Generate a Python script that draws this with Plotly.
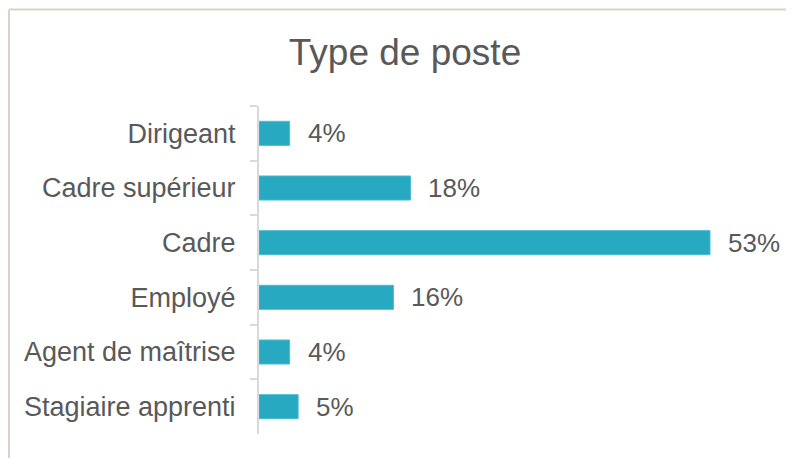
import plotly.graph_objects as go

categories = ["Dirigeant", "Cadre supérieur", "Cadre", "Employé", "Agent de maîtrise", "Stagiaire apprenti"]
values = [3.6, 17.8, 53.0, 15.8, 3.6, 4.6]
labels = ["4%", "18%", "53%", "16%", "4%", "5%"]

# page has an 8px body margin; figure coordinates are page coordinates minus 8
OFF = 8
W, H = 794 - OFF, 458 - OFF
ML, MR, MT, MB = 259 - OFF, 14, 106 - OFF, 24
PW = W - ML - MR
PH = H - MT - MB

TEXT = "#595959"
FONT = "Liberation Sans, Arial, sans-serif"

fig = go.Figure()
fig.add_trace(go.Bar(
    x=values, y=categories, orientation="h",
    marker=dict(color="#26A9C1", line=dict(color="#4FBBD0", width=1)),
    hoverinfo="skip",
))

for c, v, t in zip(categories, values, labels):
    fig.add_annotation(x=v, y=c, text=t, showarrow=False, xanchor="left",
                       xshift=16, font=dict(family=FONT, size=26, color=TEXT))

def px_x(p):
    return (p - OFF - ML) / PW

def px_y(p):
    return (H - MB - (p - OFF)) / PH

border = "#D9D3C7"
fig.add_shape(type="line", xref="paper", yref="paper",
              x0=px_x(9), x1=px_x(794), y0=px_y(9.5), y1=px_y(9.5),
              line=dict(color=border, width=2))
fig.add_shape(type="line", xref="paper", yref="paper",
              x0=px_x(9), x1=px_x(9), y0=px_y(9.5), y1=px_y(458),
              line=dict(color=border, width=2))

fig.update_layout(
    width=W, height=H,
    margin=dict(l=ML, r=MR, t=MT, b=MB),
    paper_bgcolor="white", plot_bgcolor="white",
    bargap=0.56,
    showlegend=False,
    title=dict(text="Type de poste", x=px_x(405), xref="paper", xanchor="center",
               y=1 - (52 - OFF) / H, yref="container", yanchor="middle",
               font=dict(family=FONT, size=37, color=TEXT)),
    xaxis=dict(range=[0, PW / (451 / 53.0)], visible=False, fixedrange=True),
    yaxis=dict(
        autorange="reversed", showline=True, linecolor="#D9D9D9", linewidth=2,
        ticks="outside", tickson="boundaries", ticklen=7, tickcolor="#D9D9D9", tickwidth=2,
        ticklabelstandoff=16, showgrid=False, fixedrange=True,
        tickfont=dict(family=FONT, size=27, color=TEXT),
    ),
)

fig.write_html("out.html", config={"displayModeBar": False})
